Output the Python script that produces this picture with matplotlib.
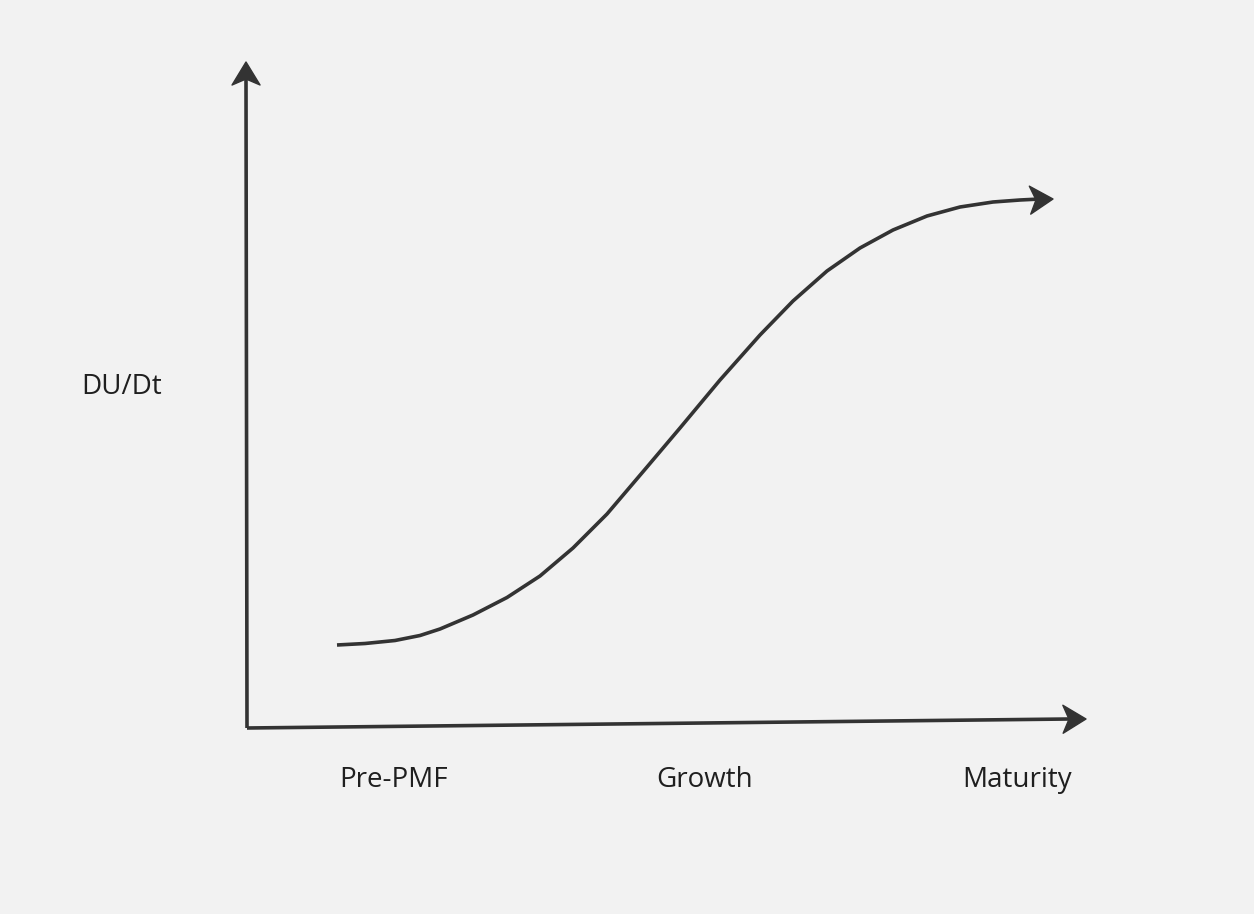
import numpy as np
import matplotlib.pyplot as plt
from matplotlib.patches import Polygon

# Stage labels along the horizontal axis and their centre positions
stages = ['Pre-PMF', 'Growth', 'Maturity']
stage_x = [394, 705, 1017]
stage_y = 780
y_label = 'DU/Dt'

# Adoption curve (canvas pixel units)
curve_x = [337, 365, 395, 420, 440, 473, 507, 540, 573, 607, 647, 680,
           720, 760, 793, 827, 860, 893, 927, 960, 993, 1020, 1050]
curve_y = [645, 643.5, 640.5, 635.5, 629, 615, 597.5, 576, 548, 514, 467, 428,
           380, 335, 301, 271, 248, 230, 216, 207, 202, 200, 199]

# Axis end points
origin = (247, 728)
y_top = (246, 64)
x_end = (1084, 719)

line_col = '#333333'
text_col = '#1f1f1f'
bg = '#f2f2f2'
lw = 2.6

plt.rcParams['font.family'] = ['Open Sans', 'DejaVu Sans']


def arrow_head(ax, tip, tail, length=23, half_w=14, notch=6):
    tip = np.array(tip, dtype=float)
    d = tip - np.array(tail, dtype=float)
    d /= np.linalg.norm(d)
    n = np.array([-d[1], d[0]])
    base = tip - length * d
    pts = [tip, base + half_w * n, tip - (length - notch) * d, base - half_w * n]
    ax.add_patch(Polygon(pts, closed=True, facecolor=line_col, edgecolor=line_col,
                         linewidth=1, joinstyle='round', zorder=3))


fig = plt.figure(figsize=(12.54, 9.14), dpi=100, facecolor=bg)
ax = fig.add_axes([0, 0, 1, 1])
ax.set_facecolor(bg)
ax.set_xlim(0, 1254)
ax.set_ylim(914, 0)
ax.axis('off')

# axes
ax.plot([origin[0], y_top[0]], [origin[1], y_top[1] + 15], color=line_col, lw=lw,
        solid_capstyle='butt')
ax.plot([origin[0], x_end[0] - 15], [origin[1], x_end[1]], color=line_col, lw=lw,
        solid_capstyle='butt')
arrow_head(ax, (y_top[0], y_top[1] - 2), origin)
arrow_head(ax, (x_end[0] + 2, x_end[1]), origin)

# curve
ax.plot(curve_x[:-1] + [curve_x[-1] - 10], curve_y[:-1] + [curve_y[-1]], color=line_col,
        lw=lw, solid_capstyle='butt', solid_joinstyle='round')
arrow_head(ax, (curve_x[-1] + 3, curve_y[-1]), (curve_x[-3], curve_y[-3]))

# labels
ax.text(81, 387, y_label, fontsize=20, color=text_col, ha='left', va='center')
for lab, x in zip(stages, stage_x):
    ax.text(x, stage_y, lab, fontsize=20, color=text_col, ha='center', va='center')

plt.savefig('out.png', dpi=100, facecolor=bg)
plt.close()
